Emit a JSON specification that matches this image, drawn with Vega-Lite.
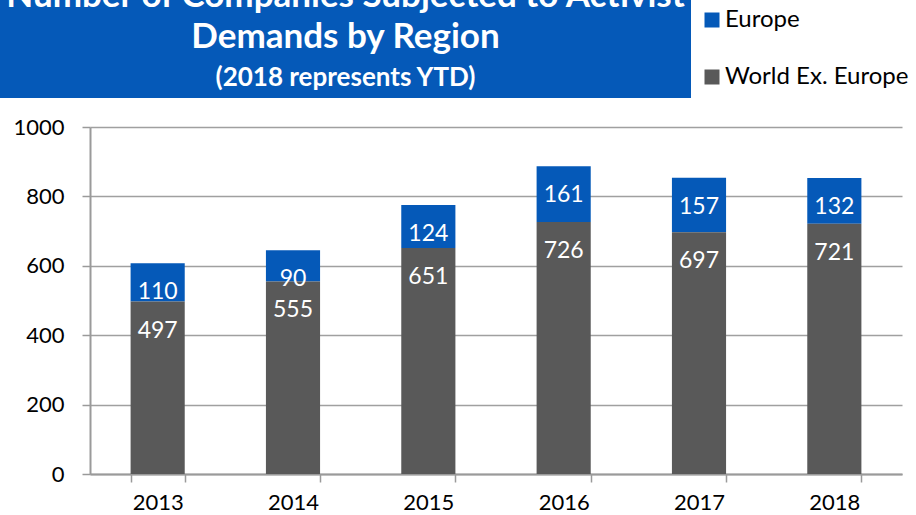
{
  "$schema": "https://vega.github.io/schema/vega-lite/v6.json",
  "padding": {"left": 0, "top": -21, "right": 0, "bottom": 0},
  "background": "white",
  "config": {"font": "Lato", "view": {"stroke": null}},
  "datasets": {
    "header": [
      {"line": 1, "text": "Number of Companies Subjected to Activist"},
      {"line": 2, "text": "Demands by Region"}
    ],
    "sub": [
      {"line": 3, "text": "(2018 represents YTD)"}
    ],
    "counts": [
      {"year": "2013", "region": "Europe", "count": 110},
      {"year": "2013", "region": "World Ex. Europe", "count": 497},
      {"year": "2014", "region": "Europe", "count": 90},
      {"year": "2014", "region": "World Ex. Europe", "count": 555},
      {"year": "2015", "region": "Europe", "count": 124},
      {"year": "2015", "region": "World Ex. Europe", "count": 651},
      {"year": "2016", "region": "Europe", "count": 161},
      {"year": "2016", "region": "World Ex. Europe", "count": 726},
      {"year": "2017", "region": "Europe", "count": 157},
      {"year": "2017", "region": "World Ex. Europe", "count": 697},
      {"year": "2018", "region": "Europe", "count": 132},
      {"year": "2018", "region": "World Ex. Europe", "count": 721}
    ]
  },
  "columns": 1,
  "spacing": 18,
  "concat": [
    {
      "width": 601,
      "height": 98,
      "view": {"stroke": null},
      "layer": [
        {
          "data": {"values": [{}]},
          "mark": {"type": "rect", "color": "#0559B8", "xOffset": -90},
          "encoding": {
            "x": {"value": 0}, "x2": {"value": "width"},
            "y": {"value": 0}, "y2": {"value": "height"}
          }
        },
        {
          "data": {"name": "header"},
          "mark": {"type": "text", "fontWeight": "bold", "fontSize": 35, "color": "white", "baseline": "middle", "align": "center", "dx": -45},
          "encoding": {
            "y": {"field": "line", "type": "ordinal", "scale": {"type": "point", "padding": 0, "domain": [1, 2, 3], "range": [-4, 78]}, "axis": null},
            "text": {"field": "text", "type": "nominal"}
          }
        },
        {
          "data": {"name": "sub"},
          "mark": {"type": "text", "fontWeight": "bold", "fontSize": 26, "color": "white", "baseline": "middle", "align": "center", "dx": -45},
          "encoding": {
            "y": {"field": "line", "type": "ordinal", "scale": {"type": "point", "padding": 0, "domain": [1, 2, 3], "range": [-4, 78]}, "axis": null},
            "text": {"field": "text", "type": "nominal"}
          }
        }
      ]
    },
    {
      "width": 812,
      "height": 347,
      "data": {"name": "counts"},
      "encoding": {
        "x": {
          "field": "year", "type": "nominal",
          "scale": {"paddingInner": 0.6, "paddingOuter": 0.3},
          "axis": {"title": null, "labelAngle": 0, "tickBand": "extent", "tickSize": 8, "labelPadding": 10, "labelFontSize": 22, "labelColor": "#000000", "domainColor": "#9A9A9A", "tickColor": "#9A9A9A", "domainWidth": 2, "tickWidth": 1.5}
        },
        "y": {
          "field": "count", "type": "quantitative", "stack": "zero",
          "scale": {"domain": [0, 1000]},
          "axis": {"title": null, "format": "d", "values": [0, 200, 400, 600, 800, 1000], "grid": true, "gridColor": "#A0A0A0", "gridWidth": 1.5, "domainColor": "#9A9A9A", "domainWidth": 2, "tickColor": "#9A9A9A", "tickWidth": 1.5, "tickSize": 8, "labelPadding": 18, "labelFontSize": 22, "labelColor": "#000000", "minExtent": 90}
        },
        "order": {"field": "region", "sort": "descending"}
      },
      "layer": [
        {
          "mark": {"type": "bar"},
          "encoding": {
            "color": {
              "field": "region", "type": "nominal",
              "scale": {"domain": ["Europe", "World Ex. Europe"], "range": ["#0559B8", "#595959"]},
              "legend": {"title": null, "orient": "none", "legendX": 610, "legendY": 8, "symbolType": "square", "symbolSize": 225, "symbolStrokeWidth": 0, "labelFontSize": 24, "labelLimit": 400, "labelColor": "#000000", "rowPadding": 33, "labelOffset": 1, "padding": 0}
            }
          }
        },
        {
          "mark": {"type": "text", "color": "white", "fontSize": 23, "dy": 29, "baseline": "middle"},
          "encoding": {
            "detail": {"field": "region", "type": "nominal"},
            "text": {"field": "count", "type": "quantitative"}
          }
        }
      ]
    }
  ]
}
